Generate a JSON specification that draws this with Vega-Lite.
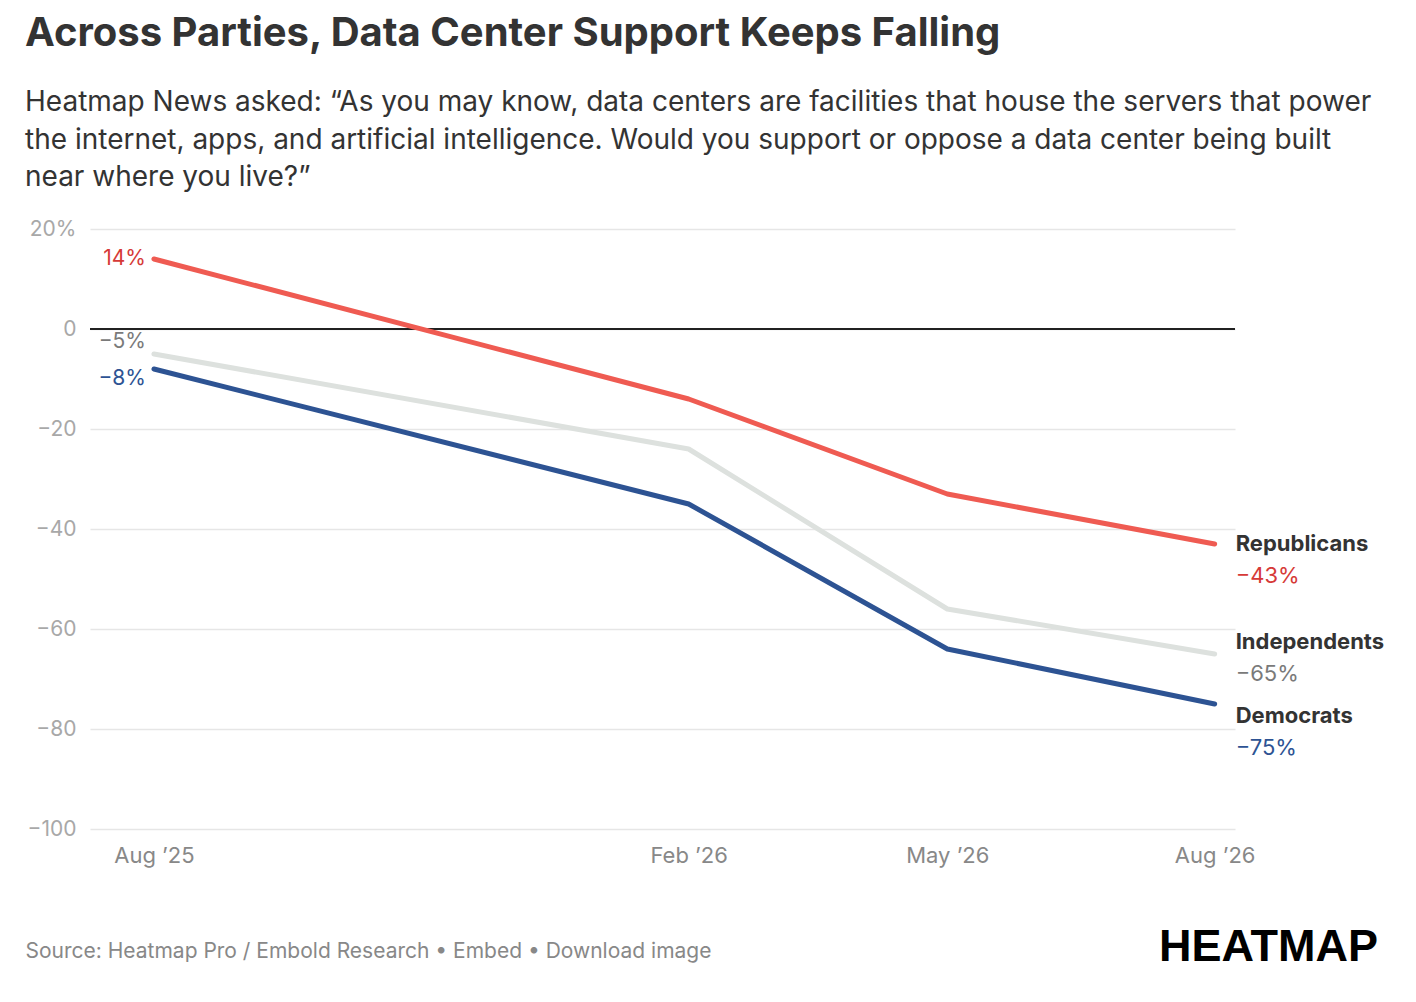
{
  "$schema": "https://vega.github.io/schema/vega-lite/v6.json",
  "width": 1145,
  "height": 600,
  "autosize": {"type": "none"},
  "padding": {"left": 90, "top": 229, "right": 181, "bottom": 173},
  "background": "white",
  "config": {
    "font": "Inter",
    "view": {"stroke": null}
  },
  "title": {
    "text": "Across Parties, Data Center Support Keeps Falling",
    "subtitle": [
      "Heatmap News asked: “As you may know, data centers are facilities that house the servers that power",
      "the internet, apps, and artificial intelligence. Would you support or oppose a data center being built",
      "near where you live?”"
    ],
    "anchor": "start",
    "frame": "group",
    "dx": -65,
    "offset": 26,
    "fontSize": 40,
    "fontWeight": "bold",
    "color": "#333333",
    "subtitleFontSize": 28,
    "subtitleColor": "#333333",
    "subtitleLineHeight": 37.5,
    "subtitlePadding": 35
  },
  "data": {
    "values": [
      {"party": "Republicans", "date": "2025-08-01", "value": 14},
      {"party": "Republicans", "date": "2026-02-01", "value": -14},
      {"party": "Republicans", "date": "2026-05-01", "value": -33},
      {"party": "Republicans", "date": "2026-08-01", "value": -43},
      {"party": "Independents", "date": "2025-08-01", "value": -5},
      {"party": "Independents", "date": "2026-02-01", "value": -24},
      {"party": "Independents", "date": "2026-05-01", "value": -56},
      {"party": "Independents", "date": "2026-08-01", "value": -65},
      {"party": "Democrats", "date": "2025-08-01", "value": -8},
      {"party": "Democrats", "date": "2026-02-01", "value": -35},
      {"party": "Democrats", "date": "2026-05-01", "value": -64},
      {"party": "Democrats", "date": "2026-08-01", "value": -75}
    ]
  },
  "transform": [
    {"calculate": "datum.value > 0 ? datum.value + '%' : '−' + abs(datum.value) + '%'", "as": "label"}
  ],
  "layer": [
    {
      "mark": {"type": "rule", "color": "#222222", "strokeWidth": 1.5},
      "encoding": {
        "y": {"datum": 0, "type": "quantitative"}
      }
    },
    {
      "mark": {"type": "line", "strokeWidth": 5, "strokeCap": "round", "strokeJoin": "round"},
      "encoding": {
        "x": {
          "field": "date",
          "type": "temporal",
          "scale": {
            "type": "utc",
            "domain": [
              {"year": 2025, "month": 7, "date": 10, "utc": true},
              {"year": 2026, "month": 8, "date": 8, "utc": true}
            ]
          },
          "axis": {
            "values": [
              {"year": 2025, "month": 8, "date": 1, "utc": true},
              {"year": 2026, "month": 2, "date": 1, "utc": true},
              {"year": 2026, "month": 5, "date": 1, "utc": true},
              {"year": 2026, "month": 8, "date": 1, "utc": true}
            ],
            "labelExpr": "utcFormat(datum.value, '%b ’%y')",
            "grid": false,
            "ticks": false,
            "domain": false,
            "labelFontSize": 22,
            "labelColor": "#888888",
            "labelPadding": 16,
            "title": "Source: Heatmap Pro / Embold Research • Embed  • Download image",
            "titleAnchor": "start",
            "titleAlign": "left",
            "titleBaseline": "alphabetic",
            "titleX": -65,
            "titleY": 128,
            "titleFontSize": 21,
            "titleFontWeight": "normal",
            "titleColor": "#888888"
          }
        },
        "y": {
          "field": "value",
          "type": "quantitative",
          "scale": {"domain": [-100, 20], "nice": false},
          "axis": {
            "values": [-100, -80, -60, -40, -20, 0, 20],
            "labelExpr": "datum.value == 20 ? '20%' : (datum.value < 0 ? '−' + abs(datum.value) : '0')",
            "grid": true,
            "gridColor": "#e6e6e6",
            "gridWidth": 1.5,
            "ticks": false,
            "domain": false,
            "labelFontSize": 21,
            "labelColor": "#a8a8a8",
            "labelPadding": 14,
            "title": "HEATMAP",
            "titleAngle": 0,
            "titleAlign": "center",
            "titleBaseline": "alphabetic",
            "titleX": 1178,
            "titleY": 731,
            "titleFontSize": 45,
            "titleFont": "Liberation Sans",
            "titleFontWeight": "bold",
            "titleColor": "#000000"
          }
        },
        "color": {
          "field": "party",
          "type": "nominal",
          "scale": {
            "domain": ["Republicans", "Independents", "Democrats"],
            "range": ["#ef5b52", "#dde1de", "#2d5393"]
          },
          "legend": null
        },
        "order": {"field": "date", "type": "temporal"}
      }
    },
    {
      "transform": [{"filter": "datum.party == 'Republicans'"}],
      "encoding": {
        "x": {"field": "date", "type": "temporal"},
        "y": {"field": "value", "type": "quantitative"}
      },
      "layer": [
        {
          "transform": [{"filter": "utcyear(datum.date) == 2026 && utcmonth(datum.date) == 7"}],
          "mark": {"type": "text", "align": "left", "baseline": "middle", "dx": 21, "dy": 0, "fontSize": 22, "fontWeight": "bold", "color": "#333333"},
          "encoding": {"text": {"field": "party"}}
        },
        {
          "transform": [{"filter": "utcyear(datum.date) == 2026 && utcmonth(datum.date) == 7"}],
          "mark": {"type": "text", "align": "left", "baseline": "middle", "dx": 21, "dy": 32, "fontSize": 22, "color": "#d63a37"},
          "encoding": {"text": {"field": "label"}}
        },
        {
          "transform": [{"filter": "utcyear(datum.date) == 2025"}],
          "mark": {"type": "text", "align": "right", "baseline": "middle", "dx": -8, "dy": 0, "fontSize": 21, "color": "#d63a37"},
          "encoding": {"text": {"field": "label"}}
        }
      ]
    },
    {
      "transform": [{"filter": "datum.party == 'Independents'"}],
      "encoding": {
        "x": {"field": "date", "type": "temporal"},
        "y": {"field": "value", "type": "quantitative"}
      },
      "layer": [
        {
          "transform": [{"filter": "utcyear(datum.date) == 2026 && utcmonth(datum.date) == 7"}],
          "mark": {"type": "text", "align": "left", "baseline": "middle", "dx": 21, "dy": -12, "fontSize": 22, "fontWeight": "bold", "color": "#333333"},
          "encoding": {"text": {"field": "party"}}
        },
        {
          "transform": [{"filter": "utcyear(datum.date) == 2026 && utcmonth(datum.date) == 7"}],
          "mark": {"type": "text", "align": "left", "baseline": "middle", "dx": 21, "dy": 20, "fontSize": 22, "color": "#7a7a7a"},
          "encoding": {"text": {"field": "label"}}
        },
        {
          "transform": [{"filter": "utcyear(datum.date) == 2025"}],
          "mark": {"type": "text", "align": "right", "baseline": "middle", "dx": -8, "dy": -12, "fontSize": 21, "color": "#7a7a7a"},
          "encoding": {"text": {"field": "label"}}
        }
      ]
    },
    {
      "transform": [{"filter": "datum.party == 'Democrats'"}],
      "encoding": {
        "x": {"field": "date", "type": "temporal"},
        "y": {"field": "value", "type": "quantitative"}
      },
      "layer": [
        {
          "transform": [{"filter": "utcyear(datum.date) == 2026 && utcmonth(datum.date) == 7"}],
          "mark": {"type": "text", "align": "left", "baseline": "middle", "dx": 21, "dy": 12, "fontSize": 22, "fontWeight": "bold", "color": "#333333"},
          "encoding": {"text": {"field": "party"}}
        },
        {
          "transform": [{"filter": "utcyear(datum.date) == 2026 && utcmonth(datum.date) == 7"}],
          "mark": {"type": "text", "align": "left", "baseline": "middle", "dx": 21, "dy": 44, "fontSize": 22, "color": "#2d5393"},
          "encoding": {"text": {"field": "label"}}
        },
        {
          "transform": [{"filter": "utcyear(datum.date) == 2025"}],
          "mark": {"type": "text", "align": "right", "baseline": "middle", "dx": -8, "dy": 10, "fontSize": 21, "color": "#2d5393"},
          "encoding": {"text": {"field": "label"}}
        }
      ]
    }
  ]
}
